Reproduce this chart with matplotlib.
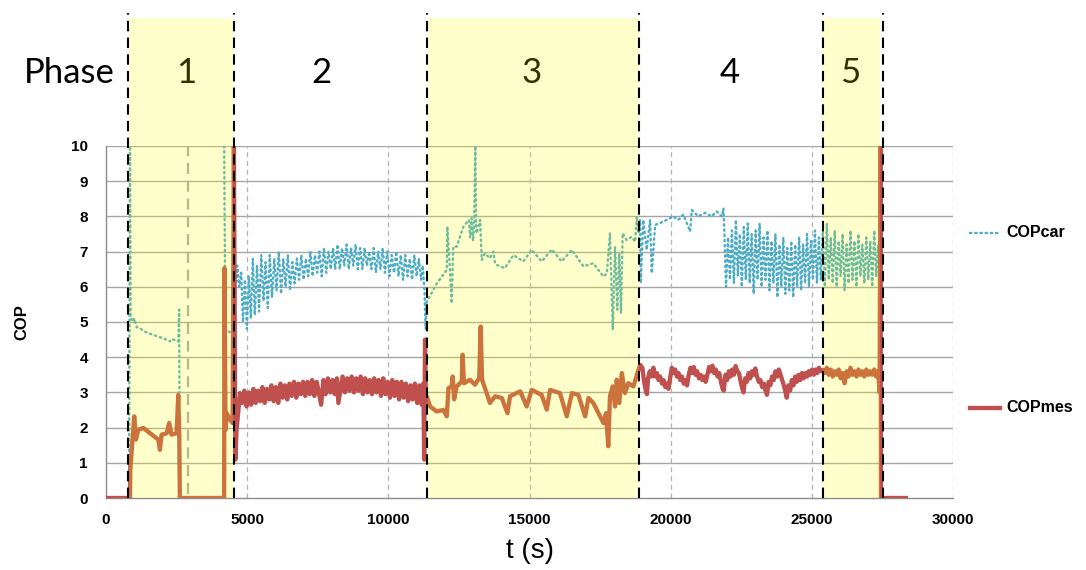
import numpy as np
import matplotlib
matplotlib.use("Agg")
import matplotlib.pyplot as plt
from matplotlib.lines import Line2D
import matplotlib.transforms as mtransforms

plt.rcParams['font.family'] = ['Liberation Sans', 'DejaVu Sans']

# phases (yellow shading and dashed markers)
span_start = [800, 11420, 25360]
span_end = [4490, 18890, 27420]
phase_marks = [770, 4520, 11370, 18880, 25385, 27510]
phase_names = ['1', '2', '3', '4', '5']
phase_label_t = [2830, 7630, 15090, 22100, 26350]

# COPcar (calculated), nan = no data
car_t = [820, 850, 875, 960, 1000, 1090, 1200, 1440, 1800, 2150, 2270, 2330, 2560, 2590, 2600, 2610,
         4180, 4185, 4230, 4480,
         4650, 4720, 4790, 4850, 4920, 4990, 5060, 5130, 5200, 5270, 5350, 5420, 5500, 5580, 5650, 5730,
         5800, 5880, 5960, 6040, 6120, 6200, 6280, 6360, 6440, 6520, 6600, 6680, 6760, 6840, 6920, 7000,
         7080, 7160, 7240, 7320, 7400, 7480, 7560, 7640, 7720, 7800, 7880, 7960, 8040, 8120, 8200, 8280,
         8360, 8440, 8520, 8600, 8680, 8760, 8840, 8920, 9000, 9080, 9160, 9240, 9320, 9400, 9480, 9560,
         9640, 9720, 9800, 9880, 9960, 10040, 10120, 10200, 10280, 10360, 10440, 10520, 10600, 10680,
         10760, 10840, 10920, 11000, 11080, 11160, 11220, 11280, 11320, 11360,
         11400, 11720, 12070, 12090, 12160, 12240, 12300, 12420, 12660, 12850, 12900, 12950, 13000, 13040,
         13080, 13110, 13130, 13250, 13310, 13420, 13600, 13720, 13780, 13840, 14130, 14430, 14780, 15080,
         15430, 15790, 16140, 16500, 16910, 17260, 17620, 17740, 17850, 17950, 18030, 18110, 18180, 18240,
         18300, 18440, 18620, 18740, 18800, 18860,
         18920, 18940, 19030, 19150, 19270, 19330, 19450, 19620, 19860, 20100, 20270, 20450, 20690, 20750,
         20980, 21220, 21450, 21630, 21810, 21870,
         21900, 21960, 22030, 22100, 22170, 22240, 22310, 22380, 22450, 22520, 22590, 22660, 22730, 22800,
         22870, 22940, 23010, 23080, 23150, 23220, 23290, 23360, 23430, 23500, 23570, 23640, 23710, 23780,
         23850, 23920, 23990, 24060, 24130, 24200, 24270, 24340, 24410, 24480, 24550, 24620, 24690, 24760,
         24830, 24900, 24970, 25040, 25110, 25180, 25250, 25320, 25390,
         25460, 25530, 25600, 25670, 25740, 25810, 25880, 25950, 26020, 26090, 26160, 26230, 26300, 26370,
         26440, 26510, 26580, 26650, 26720, 26790, 26860, 26930, 27000, 27070, 27140, 27210, 27280, 27350,
         27400]
car_v = [0.6, 10.0, 5.15, 5.0, 5.1, 4.85, 4.82, 4.7, 4.6, 4.5, 4.45, 4.52, 4.45, 5.35, 3.0, np.nan,
         np.nan, 10.0, 4.8, 4.65,
         6.6, 6.0, 6.4, 5.0, 6.2, 4.8, 6.3, 5.1, 6.8, 5.2, 6.6, 5.3, 6.9, 5.6, 6.7, 5.4,
         6.9, 5.7, 6.8, 5.9, 7.0, 5.8, 6.8, 6.0, 6.9, 5.9, 6.7, 6.1, 6.8, 6.2, 6.9, 6.2,
         6.8, 6.3, 7.0, 6.3, 6.9, 6.4, 7.0, 6.3, 7.1, 6.4, 7.0, 6.5, 7.1, 6.5, 7.2, 6.5,
         7.1, 6.6, 7.2, 6.5, 7.1, 6.6, 7.2, 6.5, 7.1, 6.5, 7.1, 6.6, 7.0, 6.5, 7.1, 6.4,
         7.0, 6.5, 7.1, 6.4, 7.0, 6.3, 6.9, 6.4, 7.0, 6.3, 6.9, 6.2, 6.9, 6.3,
         6.8, 6.2, 6.9, 6.3, 6.8, 6.2, 6.6, 5.9, 4.8, 5.6,
         5.63, 6.1, 6.48, 7.71, 6.8, 5.53, 7.14, 7.14, 7.71, 7.9, 7.4, 7.95, 7.3, 7.8,
         10.0, 7.6, 7.52, 7.9, 6.76, 6.95, 6.81, 7.0, 6.67, 6.62, 6.53, 6.9, 6.72, 7.05,
         6.72, 7.06, 6.72, 7.05, 6.58, 6.67, 6.29, 6.38, 7.52, 4.78, 7.14, 5.35, 6.95, 5.25,
         7.52, 7.33, 7.42, 7.28, 8.0, 7.52,
         7.9, 6.1, 7.9, 7.05, 7.9, 6.39, 7.76, 7.81, 7.9, 8.0, 7.9, 8.05, 7.57, 8.18,
         8.0, 8.1, 8.0, 8.14, 8.0, 8.23,
         7.6, 6.0, 7.4, 6.2, 7.6, 6.1, 7.9, 6.3, 7.5, 6.0, 7.7, 6.2, 7.8, 6.1,
         7.5, 5.8, 7.6, 6.2, 7.8, 6.0, 7.4, 6.2, 7.6, 5.9, 7.3, 6.1, 7.5, 5.7,
         7.2, 6.0, 7.4, 5.8, 7.1, 5.9, 7.3, 5.7, 7.2, 6.0, 7.4, 5.9, 7.2, 6.1,
         7.5, 6.0, 7.3, 6.2, 7.6, 6.1, 7.4, 6.2, 7.6,
         6.0, 7.8, 6.2, 7.4, 6.1, 7.6, 6.0, 7.3, 6.3, 7.5, 5.9, 7.2, 6.1, 7.6,
         6.2, 7.3, 6.0, 7.5, 6.3, 7.2, 6.1, 7.4, 6.2, 7.3, 6.0, 7.6, 6.3, 7.2,
         6.5]

# COPmes (measured)
mes_t = [0, 850, 860, 1000, 1060, 1145, 1320, 1560, 1850, 1910, 1970, 2150, 2240, 2320, 2500, 2560, 2595, 2615,
         4185, 4195, 4235, 4275, 4390, 4485, 4530, 4580, 4625, 4745,
         4820, 4900, 4980, 5060, 5140, 5220, 5300, 5380, 5460, 5540, 5620, 5700, 5780, 5860, 5940, 6020,
         6100, 6180, 6260, 6340, 6420, 6500, 6580, 6660, 6740, 6820, 6900, 6980, 7060, 7140, 7220, 7300,
         7380, 7460, 7540, 7620, 7700, 7780, 7860, 7940, 8020, 8100, 8180, 8230, 8300, 8380, 8460, 8540,
         8620, 8700, 8780, 8860, 8940, 9020, 9100, 9180, 9260, 9340, 9420, 9500, 9580, 9660, 9740, 9820,
         9900, 9980, 10060, 10140, 10220, 10300, 10380, 10460, 10540, 10620, 10700, 10780, 10860, 10940,
         11020, 11100, 11180, 11240, 11270, 11300, 11330,
         11360, 11480, 11710, 11950, 12070, 12130, 12240, 12280, 12330, 12420, 12600, 12630, 12680, 12890,
         13070, 13220, 13270, 13320, 13480, 13600, 13780, 14020, 14220, 14310, 14670, 14900, 15080, 15430,
         15610, 15730, 16080, 16320, 16500, 16730, 16970, 17090, 17260, 17620, 17710, 17790, 17850, 17950,
         18030, 18090, 18180, 18270, 18380, 18500, 18680, 18860, 18920,
         19000, 19060, 19120, 19160, 19200, 19260, 19320, 19390, 19450, 19510, 19570, 19630, 19690, 19750,
         19810, 19870, 19920, 19980, 20040, 20100, 20160, 20220, 20280, 20340, 20400, 20460, 20520, 20580,
         20640, 20700, 20760, 20820, 20880, 20940, 21000, 21060, 21120, 21180, 21240, 21300, 21360, 21420,
         21480, 21540, 21600, 21660, 21720, 21780, 21840, 21880, 21940, 22000, 22060, 22120, 22180, 22240,
         22300, 22360, 22420, 22480, 22540, 22580, 22640, 22700, 22760, 22820, 22880, 22940, 23000, 23060,
         23120, 23180, 23240, 23300, 23360, 23410, 23470, 23530, 23590, 23650, 23710, 23770, 23830, 23890,
         23950, 24010, 24070, 24110, 24170, 24230, 24290, 24350, 24410, 24470, 24530, 24590, 24650, 24710,
         24770, 24830, 24890, 24950, 25010, 25070, 25130, 25190, 25250, 25310,
         25390, 25460, 25530, 25600, 25670, 25740, 25810, 25880, 25950, 26020, 26090, 26160, 26230, 26300,
         26370, 26440, 26510, 26580, 26650, 26720, 26790, 26860, 26930, 27000, 27070, 27140, 27210, 27280,
         27350, 27400, 27430, 27450, 28330]
mes_v = [0, 0, 0.8, 2.32, 1.66, 1.94, 1.99, 1.84, 1.66, 1.37, 1.8, 1.84, 2.13, 1.8, 1.84, 2.93, 1.8, 0,
         0, 6.53, 1.94, 2.41, 2.22, 2.13, 10.0, 1.09, 1.94, 2.98,
         2.7, 3.05, 2.6, 3.0, 2.65, 3.1, 2.7, 3.05, 2.75, 3.15, 2.7, 3.1, 2.8, 3.2, 2.75, 3.15,
         2.7, 3.25, 2.85, 3.2, 2.8, 3.25, 2.9, 3.3, 2.85, 3.25, 2.95, 3.3, 2.9, 3.3, 2.95, 3.35,
         2.9, 3.3, 3.0, 2.65, 3.35, 2.95, 3.4, 3.0, 3.35, 2.95, 3.4, 2.7, 3.05, 3.45, 3.0, 3.4,
         3.05, 3.45, 3.0, 3.4, 3.05, 3.45, 2.95, 3.4, 3.0, 3.35, 2.95, 3.4, 3.0, 3.35, 2.9, 3.4,
         2.95, 3.3, 2.85, 3.35, 2.9, 3.3, 2.8, 3.3, 2.85, 3.25, 2.75, 3.2, 2.8, 3.25,
         2.7, 3.2, 2.65, 3.25, 1.09, 4.5, 2.9,
         2.89, 2.6, 2.46, 2.5, 2.32, 3.12, 3.17, 3.45, 2.8, 3.17, 3.31, 4.07, 3.26, 3.36,
         3.22, 3.41, 4.87, 3.36, 2.98, 2.7, 2.89, 2.84, 2.41, 2.89, 3.03, 2.6, 3.07, 2.93,
         2.51, 3.07, 2.98, 2.32, 2.98, 2.93, 2.32, 2.84, 2.7, 2.13, 2.41, 1.47, 2.89, 3.17,
         2.6, 3.36, 2.7, 3.55, 2.98, 3.26, 3.17, 3.64, 3.78,
         3.7, 3.3, 3.05, 2.95, 3.4, 3.6, 3.45, 3.7, 3.45, 3.55, 3.35, 3.45, 3.25, 3.35,
         3.15, 3.25, 3.1, 3.4, 3.7, 3.55, 3.65, 3.45, 3.55, 3.35, 3.45, 3.25, 3.35, 3.2,
         3.5, 3.7, 3.55, 3.72, 3.5, 3.6, 3.4, 3.5, 3.35, 3.45, 3.3, 3.5, 3.72, 3.6,
         3.76, 3.55, 3.65, 3.45, 3.55, 3.3, 3.1, 3.05, 3.5, 3.35, 3.6, 3.45, 3.65, 3.5,
         3.75, 3.6, 3.55, 3.3, 3.1, 3.0, 3.4, 3.3, 3.55, 3.4, 3.6, 3.5, 3.68, 3.45,
         3.3, 3.35, 3.15, 3.25, 3.05, 2.93, 3.3, 3.2, 3.45, 3.35, 3.6, 3.45, 3.65, 3.5,
         3.35, 3.2, 3.0, 2.85, 3.2, 3.05, 3.35, 3.2, 3.45, 3.3, 3.5, 3.35, 3.55, 3.4,
         3.55, 3.45, 3.6, 3.5, 3.65, 3.5, 3.65, 3.55, 3.7, 3.6,
         3.64, 3.55, 3.7, 3.5, 3.65, 3.45, 3.6, 3.5, 3.65, 3.4, 3.55, 3.26, 3.6, 3.45,
         3.7, 3.5, 3.6, 3.45, 3.65, 3.5, 3.6, 3.45, 3.65, 3.5, 3.6, 3.5, 3.65, 3.45,
         3.6, 3.0, 10.0, 0, 0]

x_ticks = [0, 5000, 10000, 15000, 20000, 25000, 30000]
y_ticks = list(range(11))

fig = plt.figure(figsize=(10.86, 5.70), dpi=100)
ax = fig.add_axes([106 / 1086, 72 / 570, 847 / 1086, 352 / 570])
ax.set_xlim(0, 30000)
ax.set_ylim(0, 10)

# grid
for y in y_ticks[1:]:
    ax.axhline(y, color='#a6a6a6', lw=1.0, zorder=1)
for x in x_ticks[1:]:
    ax.axvline(x, color='#b4b4b4', lw=0.9, ls=(0, (4, 3)), zorder=1)
ax.axvline(2890, ymin=0.01, ymax=1.0, color='#a8a8a8', lw=1.6, ls=(0, (5, 3)), zorder=1)

for s in ['top', 'right']:
    ax.spines[s].set_visible(False)
for s in ['left', 'bottom']:
    ax.spines[s].set_color('#8c8c8c')
    ax.spines[s].set_linewidth(1.0)

ax.plot(car_t, car_v, color='#4bacc6', lw=1.7, ls=(0, (0.6, 1.6)),
        dash_capstyle='round', zorder=3)
ax.plot(mes_t, mes_v, color='#c0504d', lw=3.1, zorder=4)

trans = mtransforms.blended_transform_factory(ax.transData, ax.transAxes)
for a, b in zip(span_start, span_end):
    ax.axvspan(a, b, ymin=0, ymax=1.3636, color='#ffff00', alpha=0.2, lw=0,
               zorder=5, clip_on=False)
for m in phase_marks:
    ax.plot([m, m], [0, 1.378], transform=trans, color='black', lw=1.5,
            ls=(0, (5, 3)), zorder=6, clip_on=False)

ax.text(-1300, 1.207, 'Phase', transform=trans, ha='center', va='center',
        fontsize=25, family=['Lato', 'DejaVu Sans'], zorder=2)
for name, t in zip(phase_names, phase_label_t):
    ax.text(t, 1.207, name, transform=trans, ha='center', va='center',
            fontsize=25, family=['Lato', 'DejaVu Sans'], zorder=2)

ax.set_xticks(x_ticks)
ax.set_yticks(y_ticks)
ax.tick_params(axis='both', length=0, labelsize=11)
ax.tick_params(axis='y', pad=13)
ax.tick_params(axis='x', pad=11)
for lab in ax.get_xticklabels() + ax.get_yticklabels():
    lab.set_fontweight('bold')

ax.set_ylabel('COP', fontsize=12, fontweight='bold', labelpad=30)
ax.set_xlabel('t (s)', fontsize=20, labelpad=8)

# legend drawn by hand (entries far apart like the original)
fig.add_artist(Line2D([970 / 1086, 1000 / 1086], [1 - 233 / 570] * 2, color='#4bacc6',
                      lw=1.7, ls=(0, (0.6, 1.6)), dash_capstyle='round'))
fig.text(1006 / 1086, 1 - 233 / 570, 'COPcar', fontsize=11.5, fontweight='bold', va='center')
fig.add_artist(Line2D([970 / 1086, 1000 / 1086], [1 - 408 / 570] * 2, color='#c0504d', lw=3.1))
fig.text(1006 / 1086, 1 - 408 / 570, 'COPmes', fontsize=11.5, fontweight='bold', va='center')

fig.savefig('out.png', dpi=100)
